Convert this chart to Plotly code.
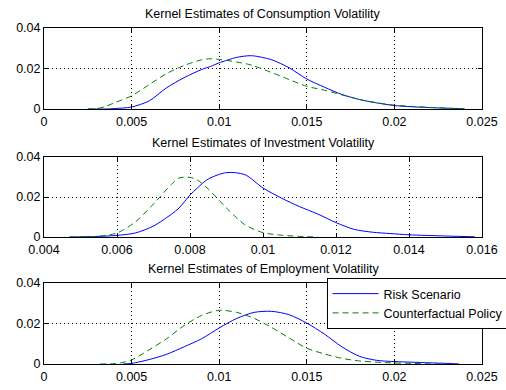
import plotly.graph_objects as go

# Consumption volatility
cons_x = [0.0025, 0.003, 0.0035, 0.004, 0.005, 0.006, 0.007, 0.008, 0.009, 0.0095, 0.010, 0.011, 0.0117, 0.012, 0.013, 0.014, 0.015, 0.016, 0.017, 0.018, 0.019, 0.020, 0.021, 0.022, 0.023, 0.024]
cons_risk = [0.0, 0.0, 0.0, 0.0002, 0.001, 0.004, 0.0105, 0.0155, 0.0195, 0.021, 0.0228, 0.0255, 0.0263, 0.0262, 0.0243, 0.0203, 0.0148, 0.0108, 0.0072, 0.0047, 0.003, 0.0017, 0.0011, 0.0007, 0.0004, 0.0001]
cons_cf = [0.0, 0.0002, 0.0012, 0.003, 0.0065, 0.012, 0.0175, 0.0215, 0.0243, 0.0248, 0.0245, 0.0232, 0.022, 0.0212, 0.018, 0.0145, 0.0112, 0.0093, 0.007, 0.0047, 0.0031, 0.0019, 0.0013, 0.0008, 0.0004, 0.0001]

# Investment volatility
inv_x = [0.0047, 0.0055, 0.006, 0.0065, 0.007, 0.0075, 0.0077, 0.008, 0.0082, 0.0085, 0.009, 0.0095, 0.010, 0.0105, 0.011, 0.0115, 0.012, 0.0125, 0.013, 0.0135, 0.014, 0.015, 0.0158]
inv_risk = [0.0, 0.0003, 0.0008, 0.002, 0.0055, 0.0115, 0.0145, 0.021, 0.0245, 0.029, 0.0322, 0.0312, 0.0245, 0.0195, 0.0152, 0.0115, 0.0072, 0.0038, 0.0024, 0.0017, 0.0011, 0.0005, 0.0001]
inv_cf = [0.0, 0.0004, 0.002, 0.0075, 0.0165, 0.0265, 0.0295, 0.0298, 0.0285, 0.024, 0.0145, 0.0062, 0.0022, 0.0009, 0.0003, 0.0, None, None, None, None, None, None, None]

# Employment volatility
emp_x = [0.0032, 0.004, 0.0045, 0.005, 0.006, 0.007, 0.008, 0.009, 0.010, 0.011, 0.012, 0.013, 0.014, 0.015, 0.016, 0.017, 0.018, 0.019, 0.020, 0.021, 0.022, 0.023, 0.0237]
emp_risk = [None, None, 0.0, 0.0003, 0.0022, 0.0048, 0.0085, 0.0125, 0.0178, 0.0225, 0.0255, 0.026, 0.0243, 0.0202, 0.0148, 0.0085, 0.0038, 0.0018, 0.0012, 0.0009, 0.0006, 0.0003, 0.0]
emp_cf = [0.0, 0.0002, 0.0008, 0.002, 0.007, 0.0125, 0.019, 0.024, 0.0265, 0.0255, 0.0225, 0.018, 0.0128, 0.0078, 0.005, 0.0028, 0.0015, 0.0009, 0.0005, 0.0003, 0.0001, 0.0, None]

titles = ["Kernel Estimates of Consumption Volatility",
          "Kernel Estimates of Investment Volatility",
          "Kernel Estimates of Employment Volatility"]
y_ticks = [0, 0.02, 0.04]
y_tick_text = ["0", "0.02", "0.04"]
x_ticks_a = [0, 0.005, 0.01, 0.015, 0.02, 0.025]
x_text_a = ["0", "0.005", "0.01", "0.015", "0.02", "0.025"]
x_ticks_b = [0.004, 0.006, 0.008, 0.01, 0.012, 0.014, 0.016]
x_text_b = ["0.004", "0.006", "0.008", "0.01", "0.012", "0.014", "0.016"]

W, H = 506, 390
BLUE = "#0000FF"
GREEN = "#008000"
FONT = "Liberation Sans, Arial, sans-serif"

panels = [
    (cons_x, cons_risk, cons_cf, (28, 109), [0, 0.025], x_ticks_a, x_text_a),
    (inv_x, inv_risk, inv_cf, (157, 237), [0.004, 0.016], x_ticks_b, x_text_b),
    (emp_x, emp_risk, emp_cf, (283, 364), [0, 0.025], x_ticks_a, x_text_a),
]

fig = go.Figure()
xdom = [44 / W, 482 / W]
layout = dict(width=W, height=H, margin=dict(l=0, r=0, t=0, b=0, autoexpand=False),
              plot_bgcolor="white", paper_bgcolor="white",
              font=dict(family=FONT, size=11, color="black"))
annotations = []
for i, (xs, r, c, (top, bot), xr, xt, xtt) in enumerate(panels):
    n = i + 1
    xa = "x" if n == 1 else f"x{n}"
    ya = "y" if n == 1 else f"y{n}"
    fig.add_trace(go.Scatter(x=xs, y=r, mode="lines",
                             line=dict(color=BLUE, width=1, shape="spline", smoothing=0.8),
                             name="Risk Scenario", showlegend=(n == 3), xaxis=xa, yaxis=ya,
                             connectgaps=False))
    fig.add_trace(go.Scatter(x=xs, y=c, mode="lines",
                             line=dict(color=GREEN, width=1, dash="6px,4px", shape="spline", smoothing=0.8),
                             name="Counterfactual Policy", showlegend=(n == 3), xaxis=xa, yaxis=ya,
                             connectgaps=False))
    ydom = [(H - bot) / H, (H - top) / H]
    common = dict(showgrid=True, gridcolor="black", griddash="1px,3px", gridwidth=1,
                  showline=True, linecolor="black", linewidth=1, mirror="ticks",
                  ticks="inside", ticklen=4, tickcolor="black", zeroline=False,
                  tickfont=dict(size=12.5, family=FONT), fixedrange=True, automargin=False)
    layout[f"xaxis{'' if n == 1 else n}"] = dict(
        domain=xdom, range=xr, anchor=ya, tickvals=xt, ticktext=xtt,
        ticklabelstandoff=1, **common)
    layout[f"yaxis{'' if n == 1 else n}"] = dict(
        domain=ydom, range=[0, 0.04], anchor=xa, tickvals=y_ticks, ticktext=y_tick_text, **common)
    annotations.append(dict(text=titles[i], xref="paper", yref="paper",
                            x=(xdom[0] + xdom[1]) / 2, y=(H - top + 5) / H,
                            xanchor="center", yanchor="bottom", showarrow=False,
                            font=dict(size=12.5, family=FONT, color="black")))

layout["annotations"] = annotations
layout["showlegend"] = True
layout["legend"] = dict(x=1.005, y=(H - 278) / H, xanchor="right", yanchor="top",
                        bgcolor="white", bordercolor="black", borderwidth=1,
                        font=dict(size=12.5, family=FONT, color="black"),
                        tracegroupgap=0, itemwidth=46)
fig.update_layout(**layout)
fig.write_html("out.html")
